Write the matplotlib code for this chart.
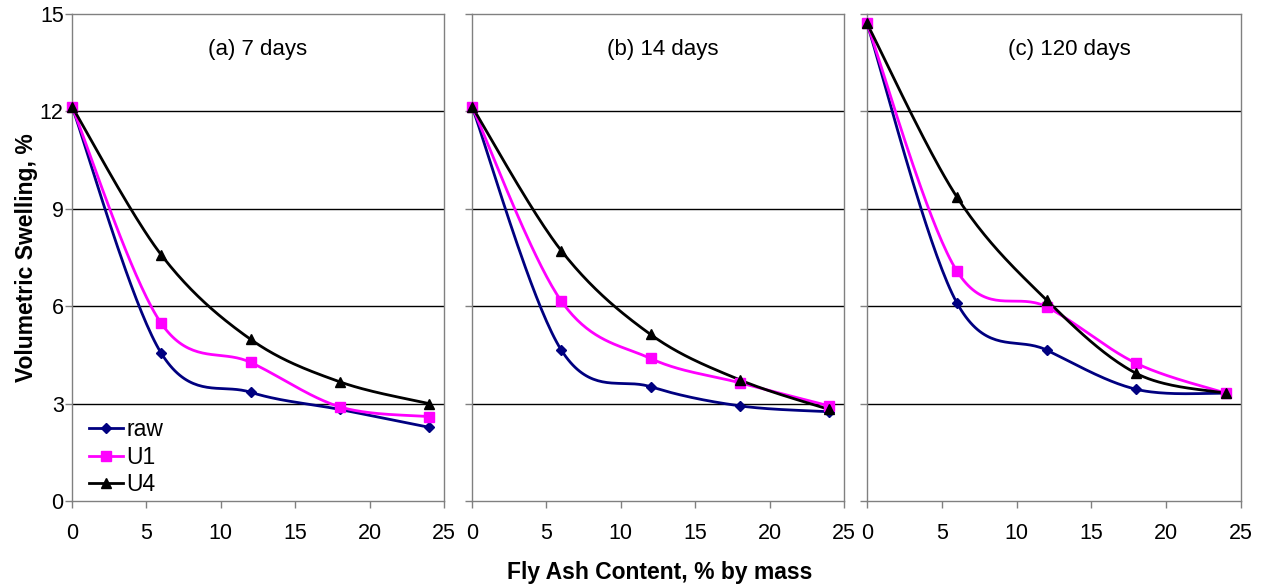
import numpy as np
import matplotlib
matplotlib.use("Agg")
import matplotlib.pyplot as plt
from matplotlib.lines import Line2D

plt.rcParams['font.family'] = ['Liberation Sans', 'DejaVu Sans']

fly_ash = [0, 6, 12, 18, 24]
panel_titles = ["(a) 7 days", "(b) 14 days", "(c) 120 days"]

raw_7 = [12.15, 4.55, 3.35, 2.82, 2.27]
u1_7 = [12.15, 5.47, 4.27, 2.9, 2.6]
u4_7 = [12.15, 7.58, 4.98, 3.67, 3.0]

raw_14 = [12.15, 4.65, 3.52, 2.93, 2.75]
u1_14 = [12.15, 6.16, 4.39, 3.64, 2.93]
u4_14 = [12.15, 7.71, 5.13, 3.73, 2.82]

raw_120 = [14.71, 6.11, 4.65, 3.44, 3.32]
u1_120 = [14.71, 7.09, 5.98, 4.24, 3.32]
u4_120 = [14.71, 9.37, 6.19, 3.93, 3.32]

panels = [(raw_7, u1_7, u4_7), (raw_14, u1_14, u4_14), (raw_120, u1_120, u4_120)]
series_names = ["raw", "U1", "U4"]
colors = ["#000080", "#FF00FF", "#000000"]
markers = ["D", "s", "^"]
msizes = [5, 7.5, 7]

x_ticks = [0, 5, 10, 15, 20, 25]
y_ticks = [0, 3, 6, 9, 12, 15]


def smooth(xs, ys, n=40):
    """Catmull-Rom smoothing (like Excel's smoothed line) for drawing."""
    x = np.asarray(xs, float)
    y = np.asarray(ys, float)
    px = np.concatenate([[x[0]], x, [x[-1]]])
    py = np.concatenate([[y[0]], y, [y[-1]]])
    ox, oy = [], []
    t = np.linspace(0, 1, n)
    for i in range(1, len(px) - 2):
        p0x, p1x, p2x, p3x = px[i - 1:i + 3]
        p0y, p1y, p2y, p3y = py[i - 1:i + 3]
        c1x = p1x + (p2x - p0x) / 6
        c1y = p1y + (p2y - p0y) / 6
        c2x = p2x - (p3x - p1x) / 6
        c2y = p2y - (p3y - p1y) / 6
        bx = (1 - t) ** 3 * p1x + 3 * (1 - t) ** 2 * t * c1x + 3 * (1 - t) * t ** 2 * c2x + t ** 3 * p2x
        by = (1 - t) ** 3 * p1y + 3 * (1 - t) ** 2 * t * c1y + 3 * (1 - t) * t ** 2 * c2y + t ** 3 * p2y
        ox.extend(bx)
        oy.extend(by)
    return np.array(ox), np.array(oy)


fig = plt.figure(figsize=(12.69, 5.85), dpi=100)
W, H = 1269, 585
lefts = [72, 472, 867]
rights = [444, 844, 1241]
top_px, bot_px = 14, 501
title_x = [12.5, 12.8, 13.5]

axes = []
for k in range(3):
    ax = fig.add_axes([lefts[k] / W, (H - bot_px) / H, (rights[k] - lefts[k]) / W, (bot_px - top_px) / H])
    axes.append(ax)
    for j, data in enumerate(panels[k]):
        sx, sy = smooth(fly_ash, data)
        ax.plot(sx, sy, color=colors[j], lw=2, zorder=3)
        ax.plot(fly_ash, data, linestyle='none', marker=markers[j], color=colors[j],
                markersize=msizes[j], zorder=4, clip_on=False)
    ax.set_xlim(0, 25)
    ax.set_ylim(0, 15)
    ax.set_xticks(x_ticks)
    ax.set_yticks(y_ticks)
    for yv in [3, 6, 9, 12]:
        ax.axhline(yv, color='black', lw=1, zorder=1)
    for sp in ax.spines.values():
        sp.set_color('#808080')
        sp.set_linewidth(1)
    ax.tick_params(axis='both', direction='out', length=5, width=1, color='#808080',
                   labelsize=15.5, labelcolor='black')
    ax.tick_params(axis='x', pad=11)
    ax.tick_params(axis='y', pad=1)
    if k > 0:
        ax.set_yticklabels([])
    ax.text(title_x[k], 13.9, panel_titles[k], ha='center', va='center', fontsize=16)

axes[0].set_ylabel("Volumetric Swelling, %", fontsize=16.5, fontweight='bold', labelpad=1)
fig.text(660 / W, 1 - 572 / H, "Fly Ash Content, % by mass", ha='center', va='center',
         fontsize=16.5, fontweight='bold')

handles = [Line2D([0], [0], color=colors[j], lw=2, marker=markers[j], markersize=msizes[j])
           for j in range(3)]
axes[0].legend(handles, series_names, loc='lower left', bbox_to_anchor=(0.045, 0.01),
               frameon=False, fontsize=16.5, handlelength=1.5, handletextpad=0.15,
               labelspacing=0.2, borderpad=0, borderaxespad=0)

fig.savefig("out.png", dpi=100)
